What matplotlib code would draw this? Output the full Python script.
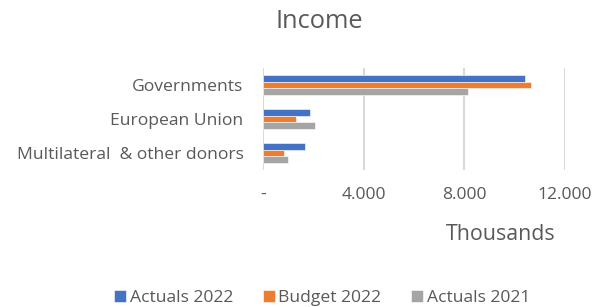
import matplotlib
matplotlib.use("Agg")
import matplotlib.pyplot as plt
import numpy as np
from matplotlib.ticker import FuncFormatter

categories = ["Governments", "European Union", "Multilateral  & other donors"]
series_names = ["Actuals 2022", "Budget 2022", "Actuals 2021"]
actuals_2022 = [10400, 1850, 1650]
budget_2022 = [10650, 1300, 820]
actuals_2021 = [8150, 2070, 1010]
xticks = [0, 4000, 8000, 12000]
colors = ["#4472C4", "#ED7D31", "#A5A5A5"]

plt.rcParams['font.family'] = ['Open Sans', 'DejaVu Sans']
txt = "#595959"

fig = plt.figure(figsize=(5.92, 3.07), dpi=100)
ax = fig.add_axes([263/592, 1-170/307, (565-263)/592, (170-68)/307])

y = np.arange(len(categories))
h = 0.205
data = [actuals_2022, budget_2022, actuals_2021]
for i, (vals, name, c) in enumerate(zip(data, series_names, colors)):
    ax.barh(y + (i - 1) * h, vals, height=h, color=c, label=name,
            edgecolor="#ffffff", linewidth=0.4, zorder=3)

ax.set_ylim(len(categories) - 0.5, -0.5)
ax.set_xlim(0, 12000)
ax.set_xticks(xticks)
ax.xaxis.set_major_formatter(FuncFormatter(lambda v, p: "-" if v == 0 else f"{int(v):,}".replace(",", ".")))
ax.set_yticks(y)
ax.set_yticklabels(categories)
ax.tick_params(axis='both', length=0, labelsize=12.6, colors=txt)
ax.tick_params(axis='x', pad=12)
ax.tick_params(axis='y', pad=14)
ax.grid(axis='x', color="#d9d9d9", linewidth=1.5, zorder=0)
for s in ax.spines.values():
    s.set_visible(False)

fig.text(319/592, 1-21/307, "Income", ha='center', va='center', fontsize=18.3, color=txt)
fig.text(501/592, 1-234/307, "Thousands", ha='center', va='center', fontsize=15.4, color=txt)

fig.legend(loc='center', bbox_to_anchor=(322/592, 1-298/307), ncol=3, frameon=False,
           fontsize=12.6, labelcolor=txt, handlelength=0.7, handleheight=0.7,
           handletextpad=0.2, columnspacing=1.7, borderpad=0, borderaxespad=0)

fig.savefig("out.png", dpi=100)
